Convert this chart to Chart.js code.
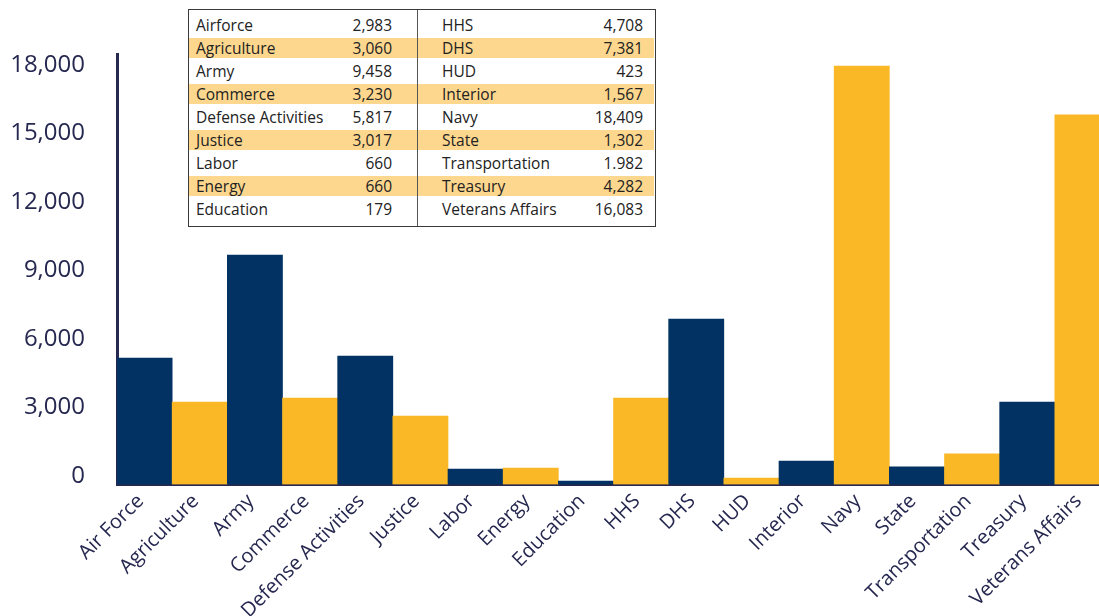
<!DOCTYPE html>
<html>
<head>
<meta charset="utf-8">
<script src="https://cdn.jsdelivr.net/npm/chart.js@4/dist/chart.umd.min.js"></script>
<style>
  body { margin: 0; background: #fff; }
  #wrap { position: relative; width: 1099px; height: 616px; overflow: hidden; }
  #myChart { position: absolute; left: 0; top: 0; }
  #dataTable {
    position: absolute; left: 188px; top: 9px; width: 468px; height: 218px;
    border: 1.5px solid #3a3a3a; box-sizing: border-box; background: #fff;
    font-family: "Open Sans", sans-serif; font-size: 15.5px; color: #222;
    display: flex;
  }
  .col { position: relative; padding-top: 5px; box-sizing: border-box; }
  .col.left { width: 229px; border-right: 1px solid #555; }
  .col.right { width: 236px; }
  .row { height: 20px; line-height: 20px; margin-bottom: 3px; position: relative; white-space: nowrap; }
  .row.hl { background: #fdd78e; }
  .row .nm { position: absolute; }
  .row .vl { position: absolute; text-align: right; }
  .left .nm { left: 7px; }
  .left .vl { right: 25px; }
  .right .nm { left: 24px; }
  .right .vl { right: 11px; }
</style>
</head>
<body>
<div id="wrap">
  <!-- canvas is a bit wider than the page so the last bar gets cut off like in the original -->
  <canvas id="myChart" width="1110" height="616"></canvas>
  <div id="dataTable">
    <div class="col left" id="colLeft"></div>
    <div class="col right" id="colRight"></div>
  </div>
</div>
<script>
    // bar chart data
    var categories = ['Air Force', 'Agriculture', 'Army', 'Commerce', 'Defense Activities', 'Justice', 'Labor', 'Energy', 'Education',
        'HHS', 'DHS', 'HUD', 'Interior', 'Navy', 'State', 'Transportation', 'Treasury', 'Veterans Affairs'];
    var values = [5540, 3610, 10050, 3790, 5630, 3000, 680, 720, 150,
        3790, 7250, 285, 1030, 18330, 770, 1340, 3610, 16190];
    var yTicks = [0, 3000, 6000, 9000, 12000, 15000, 18000];

    // table in the top left corner
    var tableNamesLeft = ['Airforce', 'Agriculture', 'Army', 'Commerce', 'Defense Activities', 'Justice', 'Labor', 'Energy', 'Education'];
    var tableValuesLeft = ['2,983', '3,060', '9,458', '3,230', '5,817', '3,017', '660', '660', '179'];
    var tableNamesRight = ['HHS', 'DHS', 'HUD', 'Interior', 'Navy', 'State', 'Transportation', 'Treasury', 'Veterans Affairs'];
    var tableValuesRight = ['4,708', '7,381', '423', '1,567', '18,409', '1,302', '1.982', '4,282', '16,083'];

    var navy = '#013263';
    var gold = '#fbb826';
    var ink = '#262850';

    function fillColumn(id, names, vals){
        var html = '';
        for (var i = 0; i < names.length; i++) {
            html += '<div class="row' + (i % 2 === 1 ? ' hl' : '') + '">' +
                '<span class="nm">' + names[i] + '</span><span class="vl">' + vals[i] + '</span></div>';
        }
        document.getElementById(id).innerHTML = html;
    }

    fillColumn('colLeft', tableNamesLeft, tableValuesLeft);
    fillColumn('colRight', tableNamesRight, tableValuesRight);

    function chart(){
        const ctx = document.getElementById('myChart');
        new Chart(ctx, {
          type: 'bar',
          data: {
            labels: categories,
            datasets: [{
              data: values,
              backgroundColor: values.map(function(v, i){ return i % 2 === 0 ? navy : gold; }),
              borderWidth: 0,
              barPercentage: 1,
              categoryPercentage: 1
            }]
          },
          options: {
            responsive: false,
            animation: false,
            layout: { padding: { top: 54, right: 0, left: 0, bottom: 0 } },
            plugins: { legend: { display: false }, tooltip: { enabled: false } },
            scales: {
              x: {
                grid: { display: false, drawTicks: false },
                border: { display: true, color: ink, width: 3 },
                ticks: {
                  autoSkip: false, maxRotation: 45, minRotation: 45, padding: 5, labelOffset: -4,
                  color: ink, font: { family: 'Open Sans', size: 20 }
                },
                afterFit: function(scale){ scale.height = 131.5; }
              },
              y: {
                min: 0,
                max: 18860,
                grid: { display: false, drawTicks: false },
                border: { display: true, color: ink, width: 3 },
                afterBuildTicks: function(scale){
                    scale.ticks = yTicks.map(function(v){ return { value: v }; });
                },
                ticks: {
                  padding: 32, labelOffset: -8.5,
                  color: ink, font: { family: 'Open Sans', size: 24 },
                  callback: function(v){ return v.toLocaleString('en-US'); }
                },
                afterFit: function(scale){ scale.width = 117; }
              }
            }
          }
        });
    }

    chart();
</script>
</body>
</html>
